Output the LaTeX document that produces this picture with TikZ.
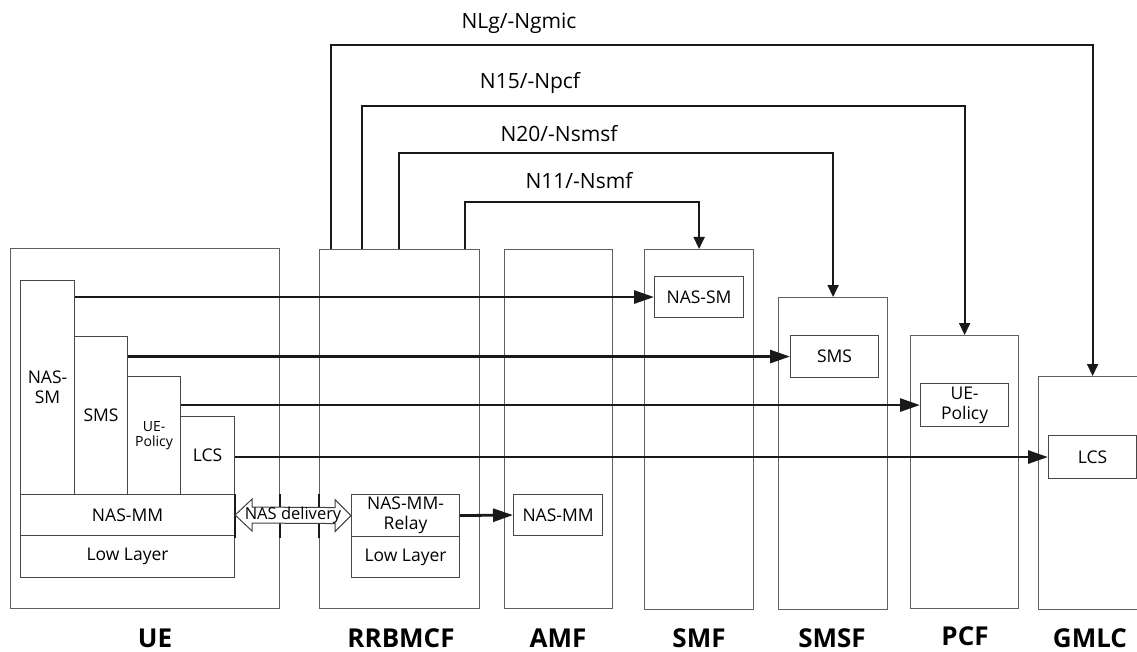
\documentclass[tikz,border=0pt]{standalone}
\usepackage{fontspec}
\setmainfont{Open Sans}
\usetikzlibrary{arrows.meta,calc}

\begin{document}
\begin{tikzpicture}[x=1pt,y=-1pt,
  frame/.style={draw=black!62, line width=1.2pt, inner sep=0pt, anchor=north west},
  layer/.style={draw=black!72, line width=1.1pt, inner sep=0pt, anchor=north west,
    fill=white, align=center, font=\fontsize{17.5}{20}\selectfont},
  smalllayer/.style={layer, font=\fontsize{14}{15}\selectfont},
  msg/.style={draw=black!90, line width=2.8pt, -{Triangle[length=20pt,width=13pt]}},
  toplink/.style={draw=black!90, line width=2pt, -{Triangle[length=12pt,width=11pt]}},
  toplabel/.style={font=\fontsize{21}{23}\selectfont, inner sep=0pt},
  netlabel/.style={font=\fontsize{26}{28}\bfseries\selectfont, inner sep=0pt, anchor=base},
  edgemark/.style={draw=black!90, line width=2.2pt}
]
\useasboundingbox (0,0) rectangle (1137,652);

% network function frames
\node[frame, minimum width=269pt, minimum height=360pt] (ue)   at (10,248)   {};
\node[frame, minimum width=160pt, minimum height=359pt] (rrb)  at (319,249)  {};
\node[frame, minimum width=108pt, minimum height=359pt] (amf)  at (504,249)  {};
\node[frame, minimum width=109pt, minimum height=360pt] (smf)  at (644,249)  {};
\node[frame, minimum width=109pt, minimum height=312pt] (smsf) at (778,297)  {};
\node[frame, minimum width=108pt, minimum height=273pt] (pcf)  at (910,335)  {};
\node[frame, minimum width=108pt, minimum height=233pt] (gmlc) at (1038,376) {};

% UE protocol stack
\node[layer, minimum width=54pt, minimum height=214pt] (uNASSM) at (20,280)  {NAS-\\SM};
\node[layer, minimum width=53pt, minimum height=158pt] (uSMS)   at (74,336)  {SMS};
\node[smalllayer, minimum width=53pt, minimum height=118pt] (uPol) at (127,376) {UE-\\Policy};
\node[layer, minimum width=54pt, minimum height=78pt]  (uLCS)   at (180,416) {LCS};
\node[layer, minimum width=214pt, minimum height=41pt] (uMM)    at (20,494)  {NAS-MM};
\node[layer, minimum width=214pt, minimum height=42pt] (uLow)   at (20,535)  {Low Layer};

% RRBMCF stack
\node[layer, minimum width=108pt, minimum height=42pt] (relay)  at (351,494) {NAS-MM-\\Relay};
\node[layer, minimum width=108pt, minimum height=41pt] (rLow)   at (351,536) {Low Layer};

% peer entities
\node[layer, minimum width=89pt, minimum height=41pt] (aMM)   at (513,494)  {NAS-MM};
\node[layer, minimum width=89pt, minimum height=41pt] (sNASSM) at (654,276) {NAS-SM};
\node[layer, minimum width=88pt, minimum height=42pt] (ssSMS) at (790,335)  {SMS};
\node[layer, minimum width=88pt, minimum height=43pt] (pPol)  at (920,383)  {UE-\\Policy};
\node[layer, minimum width=88pt, minimum height=43pt] (gLCS)  at (1048,435) {LCS};

% service-based interfaces from RRBMCF
\coordinate (lvlA) at (0,45);
\coordinate (lvlB) at (0,106);
\coordinate (lvlC) at (0,153);
\coordinate (lvlD) at (0,202);
\draw[toplink] ($(rrb.north west)+(12,0)$)  |- (lvlA -| gmlc.north) -- (gmlc.north);
\draw[toplink] ($(rrb.north west)+(43,0)$)  |- (lvlB -| pcf.north)  -- (pcf.north);
\draw[toplink] ($(rrb.north west)+(80,0)$)  |- (lvlC -| smsf.north) -- (smsf.north);
\draw[toplink] ($(rrb.north west)+(146,0)$) |- (lvlD -| smf.north)  -- (smf.north);
\node[toplabel] (lblA) at (519,23)  {NLg/-Ngmic};
\node[toplabel] (lblB) at (530,83)  {N15/-Npcf};
\node[toplabel] (lblC) at (559,134) {N20/-Nsmsf};
\node[toplabel] (lblD) at (579,181) {N11/-Nsmf};

% end-to-end NAS messages
\draw[msg] (uNASSM.east |- sNASSM.west) -- (sNASSM.west);
\draw[msg] (uSMS.east |- ssSMS.west) -- (ssSMS.west);
\draw[msg] (uPol.east |- pPol.west) -- (pPol.west);
\draw[msg] (uLCS.east |- gLCS.west) -- (gLCS.west);
\draw[msg] (relay.east) -- (aMM.west);

% NAS delivery between UE and RRBMCF
\draw[edgemark] (uMM.north east) -- ++(0,44);
\draw[edgemark] (ue.east |- uMM.north) -- ++(0,44);
\draw[edgemark] (rrb.west |- uMM.north) -- ++(0,44);
\coordinate (dl) at (uMM.east);
\coordinate (dr) at (relay.west);
\draw[draw=black!75, line width=1pt, fill=white, line join=miter]
  (dl) -- ++(17,-16) -- ++(0,8) -- ($(dr)+(-16,-8)$) -- ++(0,-8) -- (dr)
  -- ++(-16,16) -- ++(0,-8) -- ($(dl)+(17,8)$) -- ++(0,8) -- cycle;
\node[font=\fontsize{16.5}{18}\selectfont, inner sep=0pt] (nasdel) at ($(dl)!0.5!(dr)$) {NAS delivery};

% entity names
\node[netlabel] (nUE)   at (155,647)  {UE};
\node[netlabel] (nRRB)  at (401,647)  {RRBMCF};
\node[netlabel] (nAMF)  at (558,647)  {AMF};
\node[netlabel] (nSMF)  at (699,647)  {SMF};
\node[netlabel] (nSMSF) at (832,647)  {SMSF};
\node[netlabel] (nPCF)  at (965,645)  {PCF};
\node[netlabel] (nGMLC) at (1090,647) {GMLC};
\end{tikzpicture}
\end{document}
